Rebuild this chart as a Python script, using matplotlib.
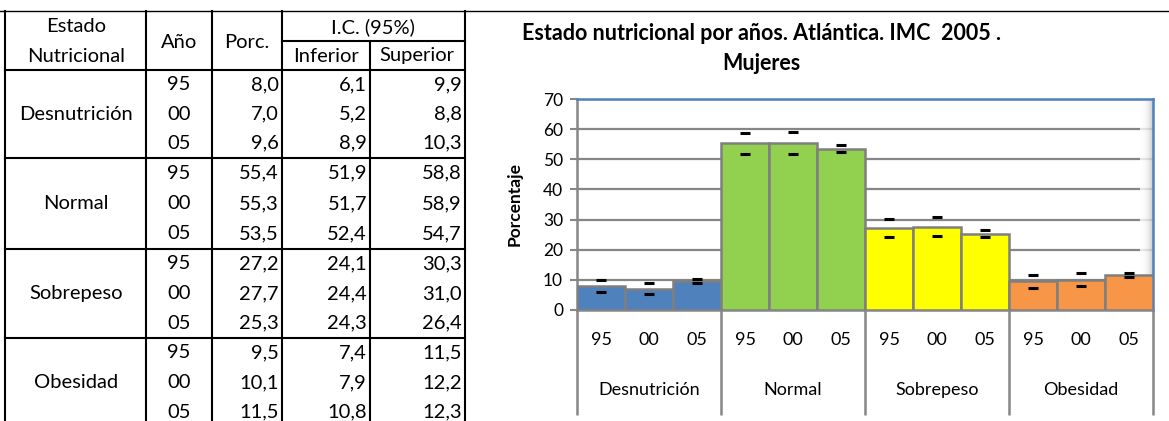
#!/usr/bin/env python3
"""Estado nutricional por años (Atlántica, IMC 2005, mujeres): tabla + barras con IC."""
import matplotlib

matplotlib.use("Agg")
import matplotlib.pyplot as plt
import matplotlib.transforms as mtransforms
import numpy as np

plt.rcParams["font.family"] = ["Lato", "DejaVu Sans"]

ESTADOS = ["Desnutrición", "Normal", "Sobrepeso", "Obesidad"]
ANIOS = ["95", "00", "05"]
PORC = [8.0, 7.0, 9.6, 55.4, 55.3, 53.5, 27.2, 27.7, 25.3, 9.5, 10.1, 11.5]
INFERIOR = [6.1, 5.2, 8.9, 51.9, 51.7, 52.4, 24.1, 24.4, 24.3, 7.4, 7.9, 10.8]
SUPERIOR = [9.9, 8.8, 10.3, 58.8, 58.9, 54.7, 30.3, 31.0, 26.4, 11.5, 12.2, 12.3]
COLORES = ["#4F81BD", "#92D050", "#FFFF00", "#F79646"]

TITULO = ["Estado nutricional por años. Atlántica. IMC  2005 .", "Mujeres"]
W, H = 1169, 421
GRIS = "#868686"


def _fmt(v):
    return f"{v:.1f}".replace(".", ",")


def draw_table(tab):
    lw = 1.5
    # outer/top rules
    tab.plot([0, W], [11, 11], color="black", lw=1.0)
    for xv in (5, 146, 212, 282, 465):
        tab.plot([xv, xv], [11, H], color="black", lw=lw)
    tab.plot([370, 370], [41, H], color="black", lw=lw)
    tab.plot([282, 465], [41, 41], color="black", lw=lw)
    bounds = [70, 158, 249, 338, 427]
    for yv in bounds[:-1]:
        tab.plot([5, 465], [yv, yv], color="black", lw=lw)

    fs = 14.5
    tab.text(76, 27, "Estado", ha="center", va="center", fontsize=fs)
    tab.text(76, 56, "Nutricional", ha="center", va="center", fontsize=fs)
    tab.text(179, 42, "Año", ha="center", va="center", fontsize=fs)
    tab.text(247, 42, "Porc.", ha="center", va="center", fontsize=fs)
    tab.text(373, 27, "I.C. (95%)", ha="center", va="center", fontsize=fs)
    tab.text(326, 56, "Inferior", ha="center", va="center", fontsize=fs)
    tab.text(417, 56, "Superior", ha="center", va="center", fontsize=fs)

    for g, estado in enumerate(ESTADOS):
        top, bot = bounds[g], bounds[g + 1]
        h = (bot - top) / 3
        tab.text(76, (top + bot) / 2, estado, ha="center", va="center", fontsize=fs)
        for k, anio in enumerate(ANIOS):
            i = g * 3 + k
            yc = top + (k + 0.5) * h
            tab.text(179, yc, anio, ha="center", va="center", fontsize=fs)
            tab.text(279, yc, _fmt(PORC[i]), ha="right", va="center", fontsize=fs)
            tab.text(367, yc, _fmt(INFERIOR[i]), ha="right", va="center", fontsize=fs)
            tab.text(462, yc, _fmt(SUPERIOR[i]), ha="right", va="center", fontsize=fs)


def draw_chart(fig):
    left, right, top, bottom = 577, 1153, 99, 310
    ax = fig.add_axes([left / W, (H - bottom) / H, (right - left) / W, (bottom - top) / H])
    ph = bottom - top

    porc = np.array(PORC)
    inf = np.array(INFERIOR)
    sup = np.array(SUPERIOR)
    x = np.arange(len(porc))
    colors = np.repeat(COLORES, len(ANIOS))

    ax.bar(x, porc, width=1.0, color=colors, edgecolor="#7F7F7F", linewidth=1.8, zorder=3)
    ax.errorbar(x, porc, yerr=[porc - inf, sup - porc], fmt="none", ecolor="black",
                elinewidth=0, capsize=3.8, capthick=2.2, zorder=4)

    ax.set_xlim(-0.5, len(porc) - 0.5)
    ax.set_ylim(0, 70)
    ax.set_yticks(range(0, 71, 10))
    ax.yaxis.grid(True, color=GRIS, lw=1.6)
    ax.set_axisbelow(True)

    # soft shadow along the back wall's right edge
    grad = np.linspace(0, 1, 64).reshape(1, -1) ** 2
    ax.imshow(grad, cmap="Greys", vmin=0, vmax=2.2, aspect="auto", alpha=0.8,
              extent=(len(porc) - 0.78, len(porc) - 0.5, 0, 70), zorder=0.8,
              interpolation="bilinear")
    ax.set_xlim(-0.5, len(porc) - 0.5)
    ax.set_ylim(0, 70)

    for side in ("top", "right"):
        ax.spines[side].set_color("#4F81BD")
        ax.spines[side].set_linewidth(1.8)
    for side in ("left", "bottom"):
        ax.spines[side].set_color(GRIS)
        ax.spines[side].set_linewidth(1.8)

    ax.tick_params(axis="y", direction="out", length=5, width=1.5, color=GRIS,
                   labelsize=12.5, pad=5)
    ax.set_xticks(x, labels=ANIOS * len(ESTADOS))
    ax.tick_params(axis="x", length=0, labelsize=13, pad=16)

    trans = mtransforms.blended_transform_factory(ax.transData, ax.transAxes)
    n = len(ANIOS)
    for g, estado in enumerate(ESTADOS):
        ax.text(g * n + (n - 1) / 2, -80 / ph, estado, transform=trans,
                ha="center", va="center", fontsize=13)
    seps = [g * n - 0.5 for g in range(len(ESTADOS) + 1)]
    ax.vlines(seps, -105 / ph, 0, transform=trans, colors=GRIS, lw=1.8, clip_on=False)

    ax.text(-62 / (right - left), 0.5, "Porcentaje", transform=ax.transAxes,
            rotation=90, ha="center", va="center", fontsize=12.5, fontweight="bold")

    fig.text(761 / W, 1 - 33 / H, TITULO[0], ha="center", va="center",
             fontsize=15.5, fontweight="bold")
    fig.text(761 / W, 1 - 63 / H, TITULO[1], ha="center", va="center",
             fontsize=15.5, fontweight="bold")
    return ax


def main():
    fig = plt.figure(figsize=(W / 100, H / 100), dpi=100)
    tab = fig.add_axes([0, 0, 1, 1])
    tab.set_xlim(0, W)
    tab.set_ylim(H, 0)
    tab.axis("off")
    draw_table(tab)
    draw_chart(fig)
    fig.savefig("out.png", dpi=100)
    plt.close(fig)


if __name__ == "__main__":
    main()
